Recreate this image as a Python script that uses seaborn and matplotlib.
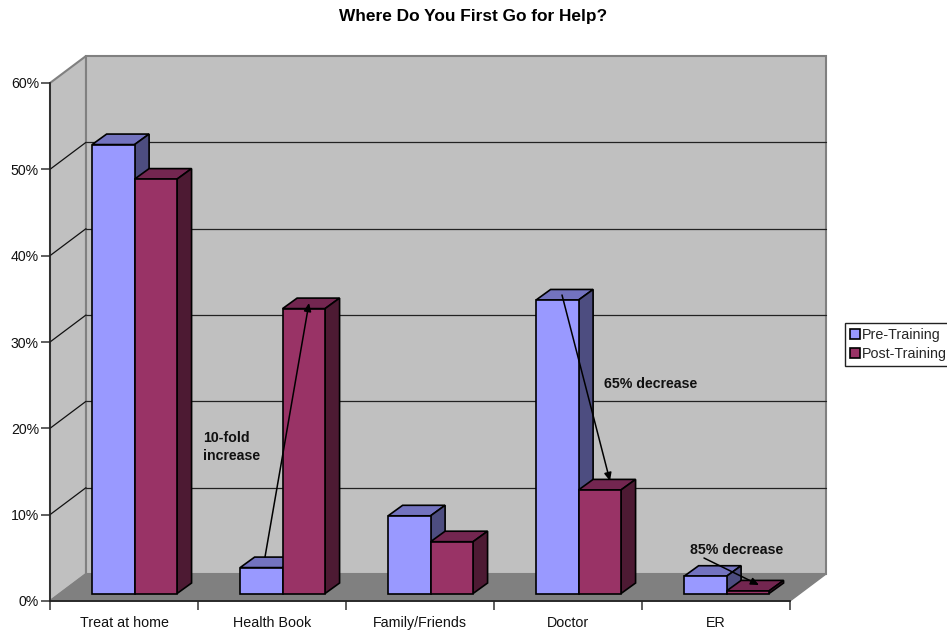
import matplotlib
matplotlib.use("Agg")
import matplotlib.pyplot as plt
import pandas as pd
import seaborn as sns
from matplotlib.lines import Line2D
from matplotlib.patches import Polygon
from matplotlib.transforms import Affine2D, IdentityTransform

categories = ["Treat at home", "Health Book", "Family/Friends", "Doctor", "ER"]
pre_training = [52, 3, 9, 34, 2]
post_training = [48, 33, 6, 12, 0.3]
series_names = ["Pre-Training", "Post-Training"]
y_ticks = [0, 10, 20, 30, 40, 50, 60]

W, H = 947, 631
WALL_DX, WALL_DY = 36, 27
BAR_DX, BAR_DY = 10.6, 7.5
SIDE_DX, SIDE_DY = 14.5, 10.5
FACES = {"Pre-Training": ("#9999FF", "#7373BF", "#4D4D80"),
         "Post-Training": ("#993366", "#732650", "#4D1A33")}

sns.set_theme(style="white")
plt.rcParams["font.family"] = ["Liberation Sans", "DejaVu Sans"]

df = pd.DataFrame({
    "category": categories * 2,
    "series": [series_names[0]] * 5 + [series_names[1]] * 5,
    "value": pre_training + post_training,
})

fig = plt.figure(figsize=(W / 100, H / 100), dpi=100)
ax = fig.add_axes([50 / W, (H - 601) / H, 740 / W, 518 / H])
sns.barplot(data=df, x="category", y="value", hue="series", hue_order=series_names,
            palette={k: v[0] for k, v in FACES.items()}, order=categories,
            width=0.574, gap=0, saturation=1, edgecolor="black", linewidth=1.2,
            legend=False, ax=ax)
ax.set_xlim(-0.5, 4.5)
ax.set_ylim(0, 60)
ax.patch.set_visible(False)
ax.set_xlabel("")
ax.set_ylabel("")


def P(x, y, depth=0.0):
    dx, dy = ax.transData.transform((x, y))
    return (dx + WALL_DX * depth, dy + WALL_DY * depth)


def poly(points, face, edge, lw, z):
    ax.add_artist(Polygon(points, closed=True, facecolor=face, edgecolor=edge, linewidth=lw,
                          transform=IdentityTransform(), clip_on=False, zorder=z, joinstyle="miter"))


def line(a, b, color, lw, z):
    ax.add_artist(Line2D([a[0], b[0]], [a[1], b[1]], color=color, linewidth=lw,
                         transform=IdentityTransform(), clip_on=False, zorder=z))


# walls and floor
grey, wall = "#808080", "#C0C0C0"
poly([P(-0.5, 0), P(-0.5, 60), P(-0.5, 60, 1), P(-0.5, 0, 1)], wall, grey, 1.5, 0.1)
poly([P(-0.5, 0, 1), P(-0.5, 60, 1), P(4.5, 60, 1), P(4.5, 0, 1)], wall, grey, 1.5, 0.2)
poly([P(-0.5, 0), P(4.5, 0), P(4.5, 0, 1), P(-0.5, 0, 1)], grey, grey, 1.0, 0.3)
for v in y_ticks[1:-1]:
    line(P(-0.5, v), P(-0.5, v, 1), "#111111", 0.9, 0.4)
    line(P(-0.5, v, 1), P(4.5, v, 1), "#222222", 0.9, 0.4)

# 3-D faces built from the library's bars
shift = ax.transData + Affine2D().translate(BAR_DX, BAR_DY)
for s, (name, container) in enumerate(zip(series_names, ax.containers)):
    front, top, side = FACES[name]
    for i, bar in enumerate(container):
        x0, x1 = bar.get_x(), bar.get_x() + bar.get_width()
        h = bar.get_height()
        z = 2 + i + s * 0.5
        bar.set_transform(shift)
        bar.set_zorder(z + 0.2)
        bar.set_clip_on(False)
        a = shift.transform((x0, h))
        b = shift.transform((x1, h))
        c = shift.transform((x1, 0))
        d = (SIDE_DX, SIDE_DY)
        poly([a, b, b + d, a + d], top, "black", 1.2, z)
        poly([c, b, b + d, c + d], side, "black", 1.2, z)

# axes
for sp in ("top", "right"):
    ax.spines[sp].set_visible(False)
ax.spines["left"].set_color("#222222")
ax.spines["left"].set_linewidth(1.2)
ax.spines["bottom"].set_color("#222222")
ax.spines["bottom"].set_linewidth(1.3)
ax.spines["left"].set_zorder(1)
ax.spines["bottom"].set_zorder(1)
ax.set_yticks(y_ticks)
ax.set_yticklabels([f"{v}%" for v in y_ticks])
ax.set_xticks([-0.5, 0.5, 1.5, 2.5, 3.5, 4.5])
ax.set_xticklabels([""] * 6)
ax.tick_params(axis="y", left=True, length=6.5, width=1.1, color="#333333", pad=1.5,
               labelsize=10.2, labelcolor="#111111")
ax.tick_params(axis="x", bottom=True, length=6.5, width=1.1, color="#333333")
for i, c in enumerate(categories):
    ax.annotate(c, xy=(i, 0), xycoords="data", xytext=(0, -22), textcoords="offset pixels",
                ha="center", va="center", fontsize=10.3, color="#111111", annotation_clip=False)

# text
fig.text(473.5 / W, 1 - 16.5 / H, "Where Do You First Go for Help?", ha="center", va="center",
         fontsize=12.4, fontweight="bold", color="black")


def fp(x, y):
    return (x, H - y)


for (x0, y0), (x1, y1) in [((265, 557), (309, 303)), ((562, 295), (610, 481)), ((704, 558), (759, 585))]:
    ax.annotate("", xy=fp(x1, y1), xycoords="figure pixels", xytext=fp(x0, y0), textcoords="figure pixels",
                arrowprops=dict(arrowstyle="-|>,head_length=0.4,head_width=0.18", color="black", lw=1.1,
                                shrinkA=0, shrinkB=0), zorder=20, annotation_clip=False)
for txt, x, y in [("10-fold", 203, 438), ("increase", 203, 456.5), ("65% decrease", 604, 383.5), ("85% decrease", 690, 549.5)]:
    fig.text(x / W, 1 - y / H, txt, ha="left", va="center", fontsize=10.2, fontweight="bold",
             color="#111111", zorder=30)

# legend
handles = [Polygon([(0, 0)], closed=True, facecolor=FACES[n][0], edgecolor="black", linewidth=1.2) for n in series_names]
leg = ax.legend(handles, series_names, loc="upper left", bbox_to_anchor=(845 / W, 1 - 323 / H),
                bbox_transform=fig.transFigure, fancybox=False, framealpha=1, edgecolor="#222222",
                fontsize=10.3, handlelength=0.7, handleheight=0.7, handletextpad=0.15,
                borderaxespad=0, borderpad=0.36, labelspacing=0.36)
leg.get_frame().set_linewidth(1.0)
leg.set_zorder(40)

fig.savefig("out.png", dpi=100, facecolor="white")
